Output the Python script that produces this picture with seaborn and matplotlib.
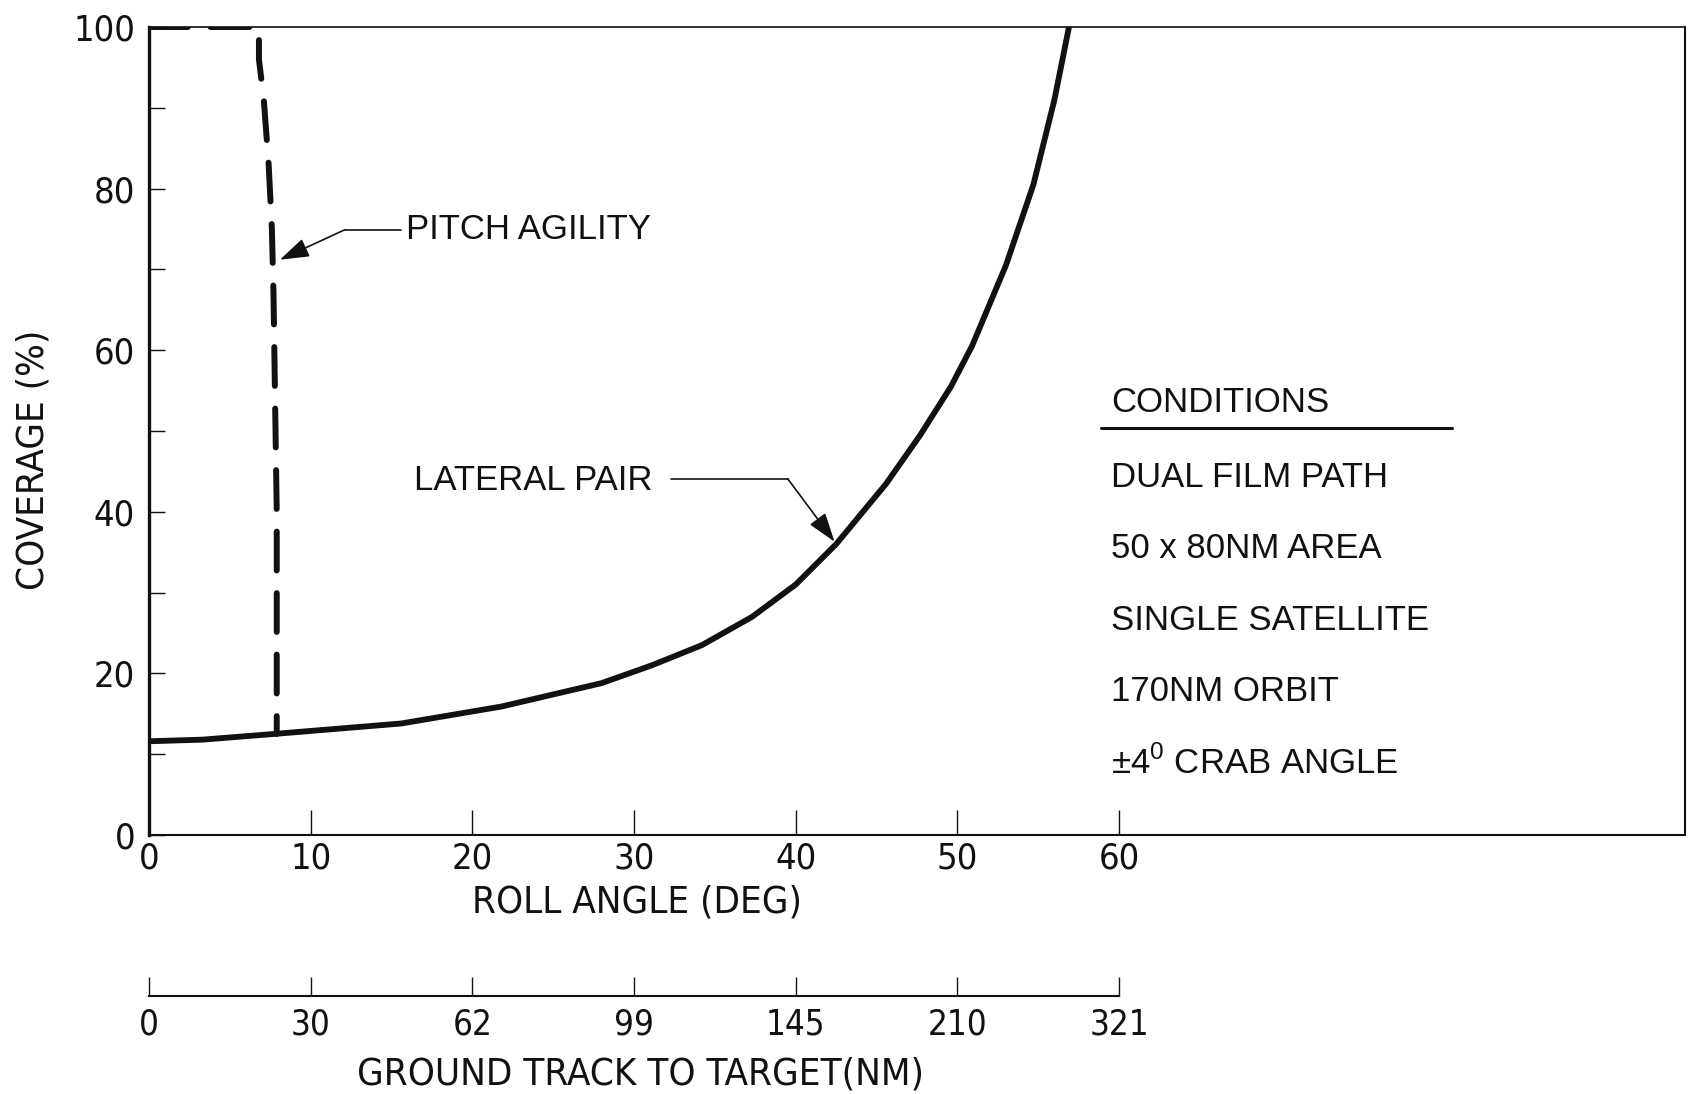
import numpy as np
import pandas as pd
import matplotlib
matplotlib.use("Agg")
import matplotlib.pyplot as plt
import seaborn as sns
from matplotlib import font_manager
from matplotlib.ticker import FixedLocator

# data
roll_lateral = [0, 3.3, 7.7, 15.6, 21.8, 28.0, 31.1, 34.2, 37.3, 40.0, 42.5, 45.6, 47.7, 49.6, 50.9, 53.0, 54.7, 56.0, 56.9]
cov_lateral = [11.6, 11.8, 12.5, 13.8, 15.9, 18.8, 21.0, 23.5, 27.0, 31.0, 36.0, 43.5, 49.5, 55.5, 60.5, 70.5, 80.5, 91.0, 100]

roll_pitch = [0, 6.8, 6.8, 7.1, 7.4, 7.6, 7.7, 7.9, 7.9]
cov_pitch = [100, 100, 96, 91, 83, 75, 67, 40, 12.5]

roll_ticks = [0, 10, 20, 30, 40, 50, 60]
ground_track = ["0", "30", "62", "99", "145", "210", "321"]
cov_ticks = [0, 20, 40, 60, 80, 100]
cov_minor = [10, 30, 50, 70, 90]

conditions = ["DUAL FILM PATH", "50 x 80NM AREA", "SINGLE SATELLITE",
              "170NM ORBIT", r"±4$^{\mathrm{0}}$ CRAB ANGLE"]
conditions_y = [44.2, 35.4, 26.6, 17.8, 8.9]


def pick_font(names):
    for n in names:
        try:
            font_manager.findfont(n, fallback_to_default=False)
            return n
        except ValueError:
            pass
    return None


def pick_narrow():
    # any installed narrow / condensed family, upright and regular weight
    for f in font_manager.fontManager.ttflist:
        nm = f.name
        narrowish = ("Narrow" in nm or "Condensed" in nm
                     or str(f.stretch) in ("condensed", "semi-condensed"))
        if narrowish and f.style == "normal" and f.weight in (400, "normal", "regular"):
            return nm, f.stretch
    return None, None


sns.set_theme(style="white")
plain = pick_font(["Liberation Sans", "Arial"]) or "DejaVu Sans"
narrow, stretch = pick_narrow()
if narrow:
    tick_size, label_size, gt_size = 26, 27.5, 25
    plt.rcParams["font.family"] = [narrow, "DejaVu Sans"]
    plt.rcParams["font.stretch"] = stretch
else:
    tick_size, label_size, gt_size = 23, 24, 22
    plt.rcParams["font.family"] = ["DejaVu Sans"]
plt.rcParams["mathtext.fontset"] = "custom"
plt.rcParams["mathtext.rm"] = plain

ink = "#111111"

fig = plt.figure(figsize=(16.88, 10.94), dpi=100)
fig.patch.set_facecolor("white")

# main axes, pixel layout
ax = fig.add_axes([149 / 1688, 1 - 835 / 1094, 1536 / 1688, 808 / 1094])
ax.set_facecolor("white")

lat = pd.DataFrame({"roll": roll_lateral, "coverage": cov_lateral})
pit = pd.DataFrame({"roll": roll_pitch, "coverage": cov_pitch})

sns.lineplot(data=lat, x="roll", y="coverage", ax=ax, color=ink, lw=4.2,
             estimator=None, sort=False, solid_joinstyle="round")
sns.lineplot(data=pit, x="roll", y="coverage", ax=ax, color=ink, lw=4.3,
             estimator=None, sort=False, linestyle=(0, (6.5, 3.8)),
             dash_capstyle="round")

ax.set_xlim(0, 95)
ax.set_ylim(0, 100)
ax.set_xticks(roll_ticks)
ax.set_xticklabels([str(t) for t in roll_ticks])
ax.set_yticks(cov_ticks)
ax.set_yticklabels([str(t) for t in cov_ticks])
ax.yaxis.set_minor_locator(FixedLocator(cov_minor))

ax.tick_params(axis="x", which="major", direction="in", length=18, width=1,
               pad=5, labelsize=tick_size, colors=ink, bottom=True)
ax.tick_params(axis="y", which="both", direction="in", length=11.5, width=1,
               pad=10, labelsize=tick_size, colors=ink, left=True)

for side, w in [("left", 2.4), ("bottom", 1.5), ("top", 1.2), ("right", 1.5)]:
    ax.spines[side].set_color(ink)
    ax.spines[side].set_linewidth(w)

ax.set_xlabel("ROLL ANGLE (DEG)", fontsize=label_size, color=ink)
ax.xaxis.set_label_coords(30.2 / 95, (835 - 902) / 808)
ax.xaxis.label.set_va("center")
ax.set_ylabel("COVERAGE (%)", fontsize=label_size, color=ink)
ax.yaxis.set_label_coords(-0.0755, 0.464)
ax.yaxis.label.set_va("center")

# annotations
note = dict(fontsize=25, color=ink, family=[plain, "DejaVu Sans"],
            stretch="normal", va="center")
arrow = dict(arrowstyle="-|>,head_length=0.9,head_width=0.3", color=ink,
             lw=1.2, shrinkA=0, shrinkB=0, mutation_scale=20)

ax.text(15.9, 74.9, "PITCH AGILITY", **note)
ax.plot([12.1, 15.6], [74.9, 74.9], color=ink, lw=1.2)
ax.annotate("", xy=(8.1, 71.2), xytext=(12.1, 74.9), arrowprops=arrow)

ax.text(16.4, 43.9, "LATERAL PAIR", **note)
ax.plot([32.3, 39.5], [44.1, 44.1], color=ink, lw=1.2)
ax.annotate("", xy=(42.4, 36.3), xytext=(39.5, 44.1), arrowprops=arrow)

ax.text(59.5, 53.5, "CONDITIONS", **note)
ax.plot([58.9, 80.6], [50.4, 50.4], color=ink, lw=2.2)
for label, yy in zip(conditions, conditions_y):
    ax.text(59.5, yy, label, **note)

# second scale: ground track to target
ax2 = fig.add_axes([149 / 1688, 1 - 996 / 1094, 60 * 1536 / 95 / 1688, 0.02])
ax2.patch.set_alpha(0)
ax2.set_xlim(0, 60)
ax2.set_ylim(0, 1)
ax2.set_yticks([])
ax2.set_xticks(roll_ticks)
ax2.set_xticklabels(ground_track)
ax2.tick_params(axis="x", direction="in", length=14, width=1, pad=8,
                labelsize=gt_size, colors=ink, bottom=True)
for side in ["left", "right", "top"]:
    ax2.spines[side].set_visible(False)
ax2.spines["bottom"].set_color(ink)
ax2.spines["bottom"].set_linewidth(1.5)
ax2.set_xlabel("GROUND TRACK TO TARGET(NM)", fontsize=label_size, color=ink)
ax2.xaxis.set_label_coords(0.507, (996 - 1074) / (0.02 * 1094))
ax2.xaxis.label.set_va("center")

fig.savefig("out.png", dpi=100, facecolor="white")
